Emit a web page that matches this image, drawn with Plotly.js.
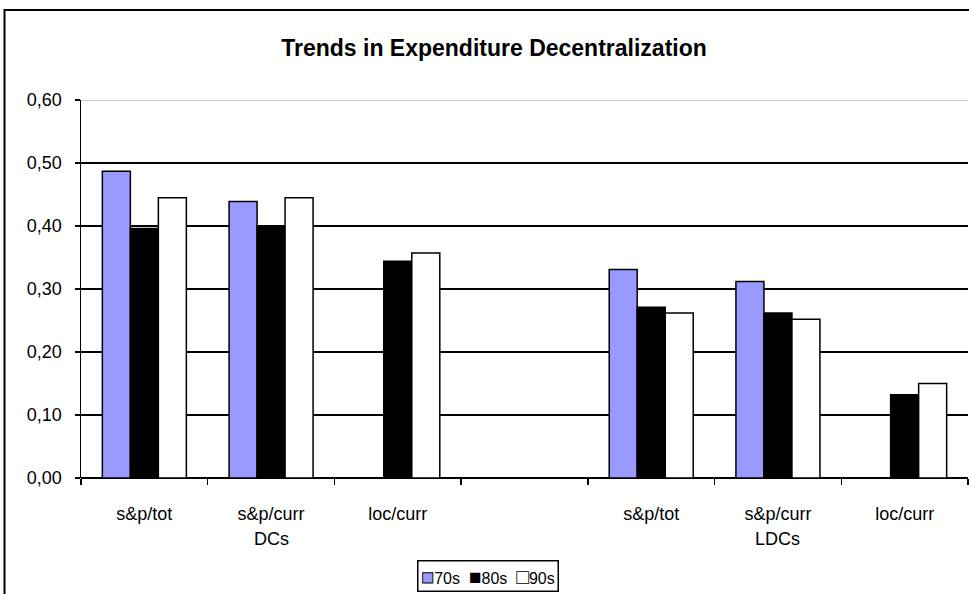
<!DOCTYPE html>
<html>
<head>
<meta charset="utf-8">
<script src="https://cdn.plot.ly/plotly-3.0.1.min.js"></script>
<style>html,body{margin:0;padding:0;background:#fff;}#chart{width:969px;height:594px;}</style>
</head>
<body>
<div id="chart"></div>
<script>
var categories = ['s&p/tot', 's&p/curr', 'loc/curr', '', 's&p/tot', 's&p/curr', 'loc/curr'];
var groupLabels = ['DCs', 'LDCs'];
var groupCenters = [1, 5];
var series = ['70s', '80s', '90s'];
var v70s = [0.487, 0.439, null, null, 0.331, 0.312, null];
var v80s = [0.396, 0.400, 0.344, null, 0.271, 0.262, 0.132];
var v90s = [0.445, 0.445, 0.357, null, 0.262, 0.252, 0.150];
var yTicks = [0, 0.1, 0.2, 0.3, 0.4, 0.5, 0.6];

var xIdx = categories.map(function (c, i) { return i; });
var boundaries = [];
for (var i = 0; i <= categories.length; i++) boundaries.push(i - 0.5);

var colors = ['#9999FF', '#000000', '#FFFFFF'];
var vals = [v70s, v80s, v90s];
var traces = series.map(function (s, k) {
  return {
    type: 'bar', name: s, x: xIdx, y: vals[k],
    marker: {color: colors[k], line: {color: '#000', width: 1.5}},
    hoverinfo: 'y', showlegend: false
  };
});

// compact legend built from the series names and colours
var legendText = series.map(function (s, k) {
  var sym = colors[k] === '#FFFFFF' ? '□' : '■';
  var col = colors[k] === '#FFFFFF' ? '#000000' : colors[k];
  var extra = (colors[k] !== '#000000' && colors[k] !== '#FFFFFF') ? ';stroke:#000;stroke-width:0.9px' : '';
  return '<span style="font-size:21px;color:' + col + extra + '">' + sym + '</span>' + s;
}).join('\u00a0\u00a0');

var FONT = 'Arial, Liberation Sans, sans-serif';
var legX = (488 - 81) / 887, legY = (478 - 576) / 378;

var layout = {
  width: 969, height: 594,
  margin: {l: 81, r: 1, t: 100, b: 116},
  paper_bgcolor: '#fff', plot_bgcolor: '#fff',
  font: {family: FONT, size: 18, color: '#000'},
  separators: ',.',
  barmode: 'group', bargap: 0.337, bargroupgap: 0,
  title: {text: '<b>Trends in Expenditure Decentralization</b>', x: 494/969, xanchor: 'center', y: 1 - 48/594, yanchor: 'middle',
          font: {family: FONT, size: 23, color: '#000'}},
  xaxis: {
    range: [-0.5, categories.length - 0.5],
    tickvals: xIdx, ticktext: categories, ticks: '', ticklen: 0,
    ticklabelstandoff: 23,
    showgrid: false, zeroline: false, showline: false,
    tickfont: {size: 18},
    minor: {tickvals: boundaries, ticks: 'outside', ticklen: 6, tickcolor: '#000', tickwidth: 1.5, showgrid: false},
    fixedrange: true
  },
  yaxis: {
    range: [0, 0.6], tickvals: yTicks, tickformat: '.2f',
    ticks: 'outside', ticklen: 5, tickcolor: '#000', tickwidth: 1.5,
    showgrid: true, gridcolor: '#000', gridwidth: 1.5,
    zeroline: true, zerolinecolor: '#000', zerolinewidth: 1.5,
    showline: true, linecolor: '#000', linewidth: 1.5,
    ticklabelstandoff: 9, tickfont: {size: 18},
    fixedrange: true
  },
  showlegend: false,
  annotations: groupLabels.map(function (g, i) {
    return {text: g, x: groupCenters[i], xref: 'x', y: (478-539)/378, yref: 'paper', yanchor: 'middle', showarrow: false, font: {size: 18}};
  }).concat([
    {text: legendText, x: legX, y: legY, xref: 'paper', yref: 'paper', xanchor: 'center', yanchor: 'middle',
     showarrow: false, font: {size: 16, color: '#000'}, borderpad: 3, borderwidth: 1.5, bordercolor: '#000', bgcolor: '#fff'}
  ]),
  shapes: [
    {type: 'line', xref: 'paper', yref: 'y', x0: 0, x1: 1, y0: 0.6, y1: 0.6, line: {color: '#C0C0C0', width: 1.5}, layer: 'above'},
    {type: 'rect', xref: 'paper', yref: 'paper', x0: (4.5-81)/887, x1: (972-81)/887, y0: (478-600)/378, y1: (478-10)/378, line: {color: '#000', width: 2}}
  ]
};

Plotly.newPlot('chart', traces, layout, {displayModeBar: false, staticPlot: true});
</script>
</body>
</html>
